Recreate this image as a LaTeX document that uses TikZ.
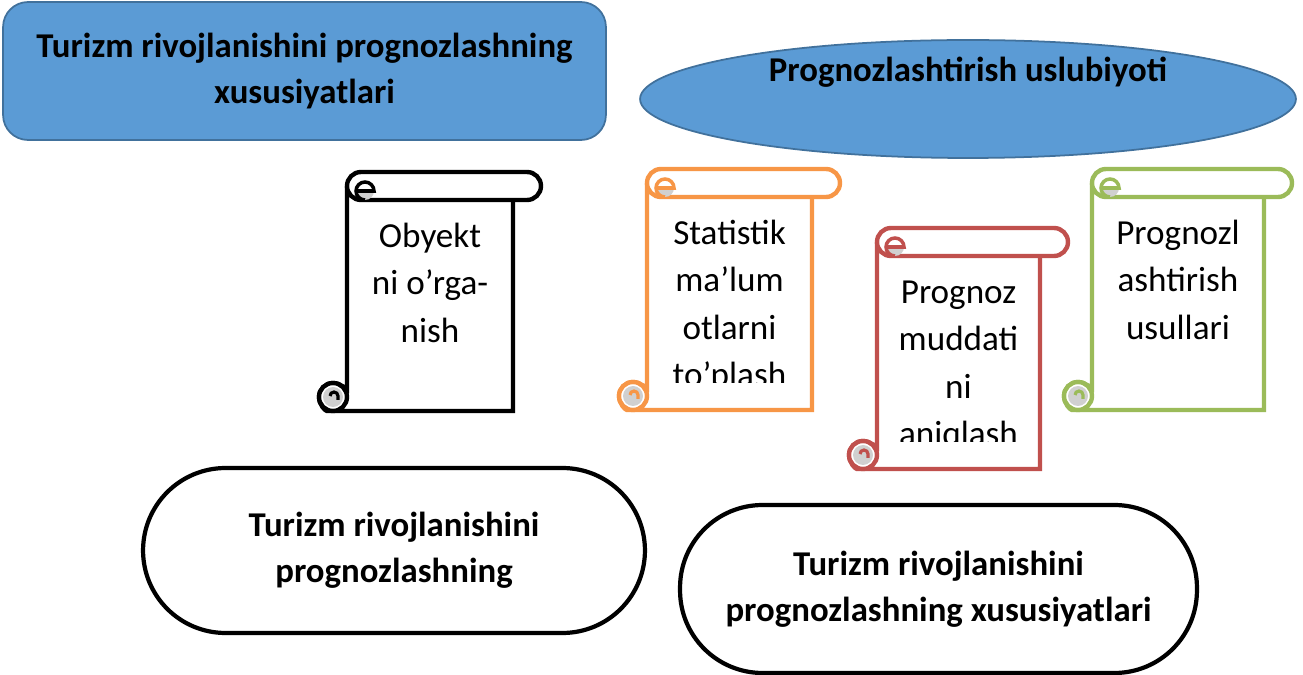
\documentclass[tikz,border=0pt]{standalone}
\usepackage{fontspec}
\setmainfont{Carlito}
\usetikzlibrary{shapes.geometric}

\definecolor{boxblue}{HTML}{5B9BD5}
\definecolor{boxedge}{HTML}{41719C}
\definecolor{scrollorange}{HTML}{F79646}
\definecolor{scrollred}{HTML}{C0504D}
\definecolor{scrollgreen}{HTML}{9BBB59}
\definecolor{curlgray}{HTML}{D0D0D0}

\begin{document}
\begin{tikzpicture}[x=0.02cm,y=0.02cm,
    heading/.style={font=\bfseries\fontsize{19.8}{26}\selectfont,align=center},
    scrolltext/.style={font=\fontsize{20}{27}\selectfont,align=center,anchor=north,inner sep=0pt},
    capsule/.style={draw=black,line width=2.4pt,fill=white,rounded corners=1.65cm}]
    \useasboundingbox (0,0) rectangle (1303,-675);
    % heading boxes
    \node[heading,draw=boxedge,line width=1pt,fill=boxblue,rounded corners=0.5cm,
      minimum width=12.06cm,minimum height=2.76cm] (features) at (304.5,-71)
      {Turizm rivojlanishini prognozlashning\\xususiyatlari};
    \node[ellipse,draw=boxedge,line width=1pt,fill=boxblue,
      minimum width=13.12cm,minimum height=2.36cm] (method) at (968,-99) {};
    \node[heading] (methodtext) at (968,-72) {Prognozlashtirish uslubiyoti};
    % scrolls
    \foreach \c/\l/\r/\t/\b/\n/\txt in {
        black/347/513/172/411/object/{\strut Obyekt\\ni o’rga-\\nish},
        scrollorange/647/812/169/410/data/{\strut Statistik\\ma’lum\\otlarni\\to’plash},
        scrollred/877/1040/228/469/term/{\strut Prognoz\\muddati\\ni\\aniqlash},
        scrollgreen/1092/1264/169/410/ways/{\strut Prognozl\\ashtirish\\usullari}}{
      \draw[draw=\c,line width=2.5pt,fill=white,rounded corners=0.12cm]
        (\l,-\t-14) -- (\l,-\b+14) arc (0:270:14) [sharp corners] -- (\r,-\b)
        -- (\r,-\t-28);
      \draw[draw=\c,line width=2.5pt,fill=white,rounded corners=0.28cm]
        (\l,-\t) rectangle (\r+28,-\t-28);
      % top curl
      \fill[curlgray] (\l+9,-\t-19) arc (180:360:9) -- cycle;
      \draw[draw=\c,line width=2pt] (\l+9,-\t-19) -- (\l+27,-\t-19) arc (0:270:9);
      % bottom curl
      \draw[draw=\c,line width=2.5pt,fill=white] (\l-14,-\b+14) circle (14);
      \fill[curlgray] (\l-14,-\b+14) circle (10);
      \draw[draw=\c,line width=1.8pt] (\l-17,-\b+15) arc (180:0:4) -- (\l-9,-\b+11);
      \begin{scope}
        \clip (\l+3,-\t-28) rectangle (\r-3,-\b+27);
        \node[scrolltext] (\n) at ({(\l+\r)/2},-\t-42) {\txt};
      \end{scope}
    }
    % goals
    \node[capsule,heading,minimum width=10.04cm,minimum height=3.3cm] (goal1) at (394,-550.5)
      {Turizm rivojlanishini\\prognozlashning};
    \node[capsule,heading,minimum width=10.34cm,minimum height=3.36cm] (goal2) at (938.5,-589)
      {Turizm rivojlanishini\\prognozlashning xususiyatlari};
\end{tikzpicture}
\end{document}
